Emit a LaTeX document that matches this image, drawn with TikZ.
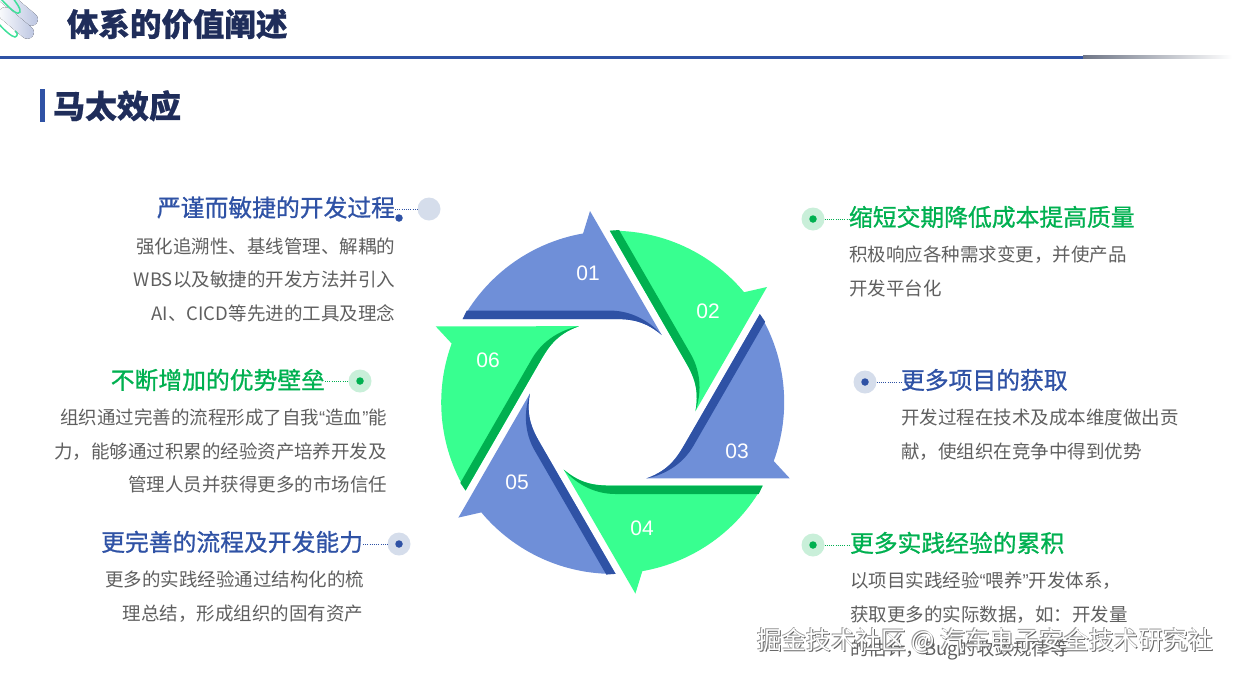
\documentclass[tikz,border=0pt]{standalone}
\usepackage{fontspec}
\setmainfont{Noto Sans CJK SC}
\newfontfamily\numfont{Liberation Sans}
\newfontfamily\ttlfont[FakeBold=0.9]{Noto Sans CJK SC}
\newfontfamily\heavyfont[UprightFeatures={FakeBold=0.6},BoldFeatures={FakeBold=0.6}]{Noto Sans CJK SC}
\definecolor{lblue}{HTML}{6F8FD8}
\definecolor{dblue}{HTML}{2F52A5}
\definecolor{lgreen}{HTML}{38FF90}
\definecolor{dgreen}{HTML}{00B050}
\definecolor{navy}{HTML}{1F2D5A}
\definecolor{body}{HTML}{5F5F5F}
\definecolor{pblue}{HTML}{D5DDEB}
\definecolor{pgreen}{HTML}{C9EFD9}
\definecolor{logog}{HTML}{B9C3E0}
\definecolor{logoline}{HTML}{3FE09A}
\newcommand{\qt}[1]{{\numfont #1}}
\newcommand{\petal}[3]{%
  \begin{scope}[rotate=#1]
    \fill[#2] (-150,83.3) arc[start angle=150.9,end angle=99.9,radius=171.5]
      -- (-22.7,191.3) -- (49,67.3) .. controls (30,83.3) and (15,83.3) .. (-2.7,83.3) -- cycle;
    \fill[#3] (-150,83.3) -- (-146,91.7) -- (-2.7,91.7) .. controls (20,91.7) and (38,80) .. (49,67.3)
      .. controls (30,83.3) and (15,83.3) .. (-2.7,83.3) -- cycle;
  \end{scope}}
\tikzset{
  x=1pt,y=-1pt,
  every node/.style={inner sep=0pt,outer sep=0pt},
  ttl/.style={font=\ttlfont\fontsize{23.8}{23.8}\selectfont},
  txt/.style={font=\fontsize{18.5}{18.5}\selectfont,text=body},
  num/.style={font=\numfont\fontsize{21}{21}\selectfont,text=white},
  pale/.style={circle,minimum size=23pt},
  dot/.style={circle,minimum size=7.5pt},
  dotline/.style={line width=1pt,dash pattern=on 1pt off 1.2pt},
  wmark/.style={font=\fontsize{24.8}{24.8}\selectfont,anchor=base west}
}
\begin{document}
\begin{tikzpicture}
\useasboundingbox (0,0) rectangle (1235,673);
% logo
\begin{scope}
  \clip (0,0) rectangle (60,50);
  \fill[rounded corners=6.5pt,left color=white,right color=logog,rotate around={-40:(31,19)}] (-12,12.5) rectangle (38,25.5);
  \fill[rounded corners=6.5pt,left color=white,right color=logog,rotate around={-40:(27,32)}] (-8,25.5) rectangle (34,38.5);
  \draw[line width=1.5pt,logoline] (13,-2) .. controls (16,3) and (21,8) .. (20,12) .. controls (18,15) and (14,13) .. (0,-2);
  \draw[line width=1.5pt,logoline] (-2,23) .. controls (4,30) and (12,37) .. (15,37) .. controls (18,36) and (18,33) .. (15,31);
\end{scope}
% header
\node[font=\heavyfont\fontsize{31.5}{31.5}\selectfont\bfseries,text=navy,anchor=base west] (head) at (67,36) {体系的价值阐述};
\fill[dblue] (0,55.5) rectangle (1083,58.5);
\fill[left color=gray!80!dblue,right color=white] (1083,55.8) rectangle (1232,58.2);
\node[fill=dblue,minimum width=5pt,minimum height=33pt] (bar) at (42.5,105.5) {};
\node[font=\heavyfont\fontsize{32}{32}\selectfont\bfseries,text=navy,anchor=base west] (sub) at (53,118) {马太效应};
% ring
\begin{scope}[shift={(612.7,402.3)},x=1pt,y=1pt]
  \petal{0}{lblue}{dblue}
  \petal{-60}{lgreen}{dgreen}
  \petal{-120}{lblue}{dblue}
  \petal{-180}{lgreen}{dgreen}
  \petal{-240}{lblue}{dblue}
  \petal{-300}{lgreen}{dgreen}
\end{scope}
\node[num] (n1) at (588,273.5) {01};
\node[num] (n2) at (708,311.5) {02};
\node[num] (n3) at (737,451.5) {03};
\node[num] (n4) at (642,528.5) {04};
\node[num] (n5) at (517,482.5) {05};
\node[num] (n6) at (488,360.5) {06};
% left column
\node[ttl,text=dblue,anchor=base east] (t1) at (395,216.5) {严谨而敏捷的开发过程};
\node[txt,anchor=base east] (l11) at (395,253.2) {强化追溯性、基线管理、解耦的};
\node[txt,anchor=base east] (l12) at (395,286.7) {WBS以及敏捷的开发方法并引入};
\node[txt,anchor=base east] (l13) at (395,320.2) {AI、CICD等先进的工具及理念};
\node[ttl,text=dgreen,anchor=base east] (t6) at (325,389) {不断增加的优势壁垒};
\node[txt,anchor=base east] (l21) at (387,424.2) {组织通过完善的流程形成了自我\qt{“}造血\qt{”}能};
\node[txt,anchor=base east] (l22) at (387,458.2) {力，能够通过积累的经验资产培养开发及};
\node[txt,anchor=base east] (l23) at (387,491.2) {管理人员并获得更多的市场信任};
\node[ttl,text=dblue,anchor=base east] (t5) at (363,551) {更完善的流程及开发能力};
\node[txt,anchor=base east] (l31) at (364,586.2) {更多的实践经验通过结构化的梳};
\node[txt,anchor=base east] (l32) at (363,620.2) {理总结，形成组织的固有资产};
% right column
\node[ttl,text=dgreen,anchor=base west] (t2) at (849,226) {缩短交期降低成本提高质量};
\node[txt,anchor=base west] (r11) at (849,261.2) {积极响应各种需求变更，并使产品};
\node[txt,anchor=base west] (r12) at (849,295.2) {开发平台化};
\node[ttl,text=dblue,anchor=base west] (t3) at (901,389) {更多项目的获取};
\node[txt,anchor=base west] (r21) at (901,424.2) {开发过程在技术及成本维度做出贡};
\node[txt,anchor=base west] (r22) at (901,458.2) {献，使组织在竞争中得到优势};
\node[ttl,text=dgreen,anchor=base west] (t4) at (850,552) {更多实践经验的累积};
\node[txt,anchor=base west] (r31) at (850,587.2) {以项目实践经验\qt{“}喂养\qt{”}开发体系，};
\node[txt,anchor=base west] (r32) at (850,621.2) {获取更多的实际数据，如：开发量};
\node[txt,anchor=base west] (r33) at (850,655.2) {的估计，Bug的收敛规律等};
% markers
\node[pale,fill=pblue] (p1) at (429,209) {};
\node[dot,fill=dblue] (d1) at (399,218) {};
\draw[dotline,dblue] (t1.east |- p1) -- (p1.west);
\node[pale,fill=pgreen] (p2) at (813,219) {};
\node[dot,fill=dgreen] (d2) at (813,219) {};
\draw[dotline,dgreen] (p2.east) -- (t2.west |- p2);
\node[pale,fill=pblue] (p3) at (865,382) {};
\node[dot,fill=dblue] (d3) at (865,382) {};
\draw[dotline,dblue] (p3.east) -- (t3.west |- p3);
\node[pale,fill=pgreen] (p6) at (360,381) {};
\node[dot,fill=dgreen] (d6) at (360,381) {};
\draw[dotline,dgreen] (t6.east |- p6) -- (p6.west);
\node[pale,fill=pblue] (p5) at (399,544) {};
\node[dot,fill=dblue] (d5) at (399,544) {};
\draw[dotline,dblue] (t5.east |- p5) -- (p5.west);
\node[pale,fill=pgreen] (p4) at (813,545) {};
\node[dot,fill=dgreen] (d4) at (813,545) {};
\draw[dotline,dgreen] (p4.east) -- (t4.west |- p4);
% watermark
\node[wmark,text=black!60] (wms) at (758,650) {掘金技术社区 @ 汽车电子安全技术研究社};
\node[wmark,text=black!40] (wmt) at (756.3,648.3) {掘金技术社区 @ 汽车电子安全技术研究社};
\node[wmark,text=white] (wm) at (757,649) {掘金技术社区 @ 汽车电子安全技术研究社};
\end{tikzpicture}
\end{document}
